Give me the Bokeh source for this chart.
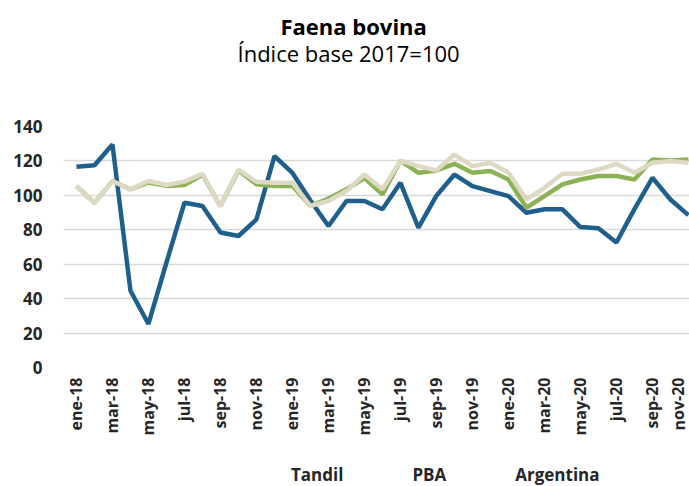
from bokeh.plotting import figure
from bokeh.layouts import column
from bokeh.models import (ColumnDataSource, FixedTicker, Range1d, Title, Legend, LegendItem)
from bokeh.embed import file_html
from bokeh.resources import INLINE

# ---- data ----
months = ["ene", "feb", "mar", "abr", "may", "jun", "jul", "ago", "sep", "oct", "nov", "dic"]
periods = [f"{m}-{y}" for y in ("18", "19", "20") for m in months][:35]

tandil = [116.6, 117.5, 129.5, 44.6, 25.3, 61.0, 95.7, 93.8, 78.4, 76.4, 86.0, 122.8,
          113.0, 97.0, 82.2, 96.7, 96.7, 91.9, 107.3, 81.2, 99.8, 112.1, 105.4, 102.5,
          99.6, 89.9, 91.9, 91.9, 81.6, 80.9, 72.6, 92.0, 110.2, 97.6, 88.5]
pba = [105.4, 95.7, 108.3, 103.5, 107.5, 105.5, 106.0, 112.0, 93.8, 114.5, 106.5, 105.4,
       105.4, 93.8, 98.2, 103.5, 110.0, 100.6, 120.2, 113.1, 114.5, 118.3, 113.1, 114.1,
       109.2, 92.8, 99.6, 106.4, 109.2, 111.2, 111.2, 109.2, 120.8, 120.2, 120.8]
argentina = [105.4, 95.7, 108.3, 103.5, 108.3, 106.0, 108.0, 112.5, 93.8, 115.0, 107.9, 107.3,
             107.3, 93.8, 96.7, 102.5, 112.1, 103.5, 120.2, 117.0, 114.5, 123.7, 117.0, 118.9,
             113.1, 97.7, 104.4, 112.5, 112.5, 115.0, 118.3, 113.1, 118.9, 119.9, 118.9]

series_names = ["Tandil", "PBA", "Argentina"]
series_colors = ["#1F5F8B", "#8DB255", "#DDD9C3"]
y_ticks = [0, 20, 40, 60, 80, 100, 120, 140]

src = ColumnDataSource(dict(x=list(range(len(periods))), tandil=tandil, pba=pba, arg=argentina))

TXT = "#262626"
FONT = "Open Sans"

# ---- main chart ----
p = figure(frame_width=626, frame_height=241, output_backend="svg", toolbar_location=None,
           x_range=Range1d(-0.72, 34.06), y_range=Range1d(0, 140),
           min_border_left=63, min_border_right=0, min_border_top=126, min_border_bottom=90)
p.outline_line_color = None
p.background_fill_color = "white"

for col, color in zip(["tandil", "pba", "arg"], series_colors):
    p.line("x", col, source=src, line_color=color, line_width=4.5)

p.yaxis.ticker = FixedTicker(ticks=y_ticks)
p.yaxis.axis_line_color = None
p.yaxis.major_tick_line_color = None
p.yaxis.minor_tick_line_color = None
p.yaxis.major_label_text_font = FONT
p.yaxis.major_label_text_font_style = "bold"
p.yaxis.major_label_text_font_size = "17px"
p.yaxis.major_label_text_color = TXT
p.yaxis.major_label_standoff = 15

p.xaxis.ticker = FixedTicker(ticks=list(range(0, len(periods), 2)))
p.xaxis.major_label_overrides = {i: periods[i] for i in range(0, len(periods), 2)}
p.xaxis.major_label_orientation = 1.5708
p.xaxis.axis_line_color = None
p.xaxis.major_tick_line_color = None
p.xaxis.minor_tick_line_color = None
p.xaxis.major_tick_out = 0
p.xaxis.major_tick_in = 0
p.xaxis.major_label_text_font = FONT
p.xaxis.major_label_text_font_style = "bold"
p.xaxis.major_label_text_font_size = "16px"
p.xaxis.major_label_text_color = TXT
p.xaxis.major_label_standoff = 10

p.xgrid.grid_line_color = None
p.ygrid.ticker = FixedTicker(ticks=y_ticks)
p.ygrid.grid_line_color = "#D9D9D9"
p.ygrid.grid_line_width = 1.5

# titles (spacer first, nearest the plot area)
p.add_layout(Title(text=" ", text_font_size="1px", standoff=56), "above")
p.add_layout(Title(text="Índice base 2017=100", align="left", offset=174,
                   text_font=FONT, text_font_style="normal", text_font_size="22px",
                   text_color="#000000", standoff=0), "above")
p.add_layout(Title(text="Faena bovina", align="left", offset=217,
                   text_font=FONT, text_font_style="bold", text_font_size="22px",
                   text_color="#000000", standoff=-10), "above")

# ---- legend strip ----
lg = figure(width=689, height=29, output_backend="svg", toolbar_location=None,
            x_range=Range1d(0, 1), y_range=Range1d(0, 1),
            x_axis_location=None, y_axis_location=None, min_border=0)
lg.outline_line_color = None
lg.xgrid.visible = False
lg.ygrid.visible = False

items = []
for name, color in zip(series_names, series_colors):
    r = lg.line(x=[], y=[], line_color=color, line_width=4.5)
    items.append(LegendItem(label=name, renderers=[r]))

legend = Legend(items=items, orientation="horizontal", location=(181, 0),
                border_line_color=None, background_fill_alpha=0,
                label_text_font=FONT, label_text_font_style="bold",
                label_text_font_size="17px", label_text_color=TXT,
                glyph_width=45, glyph_height=20, spacing=22, padding=2, margin=0,
                label_standoff=2)
lg.add_layout(legend, "center")

layout = column(p, lg, spacing=0)
open("out.html", "w").write(file_html(layout, INLINE))
